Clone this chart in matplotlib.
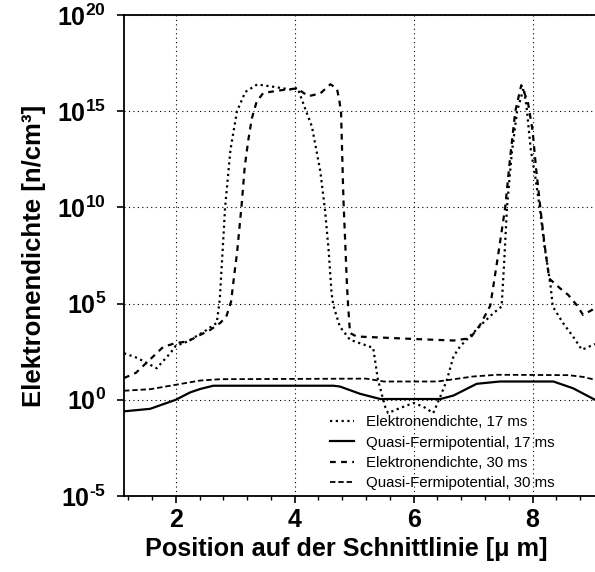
import numpy as np
import matplotlib.pyplot as plt
from matplotlib.ticker import FixedLocator, FuncFormatter, MultipleLocator

plt.rcParams['font.family'] = ['Liberation Sans', 'DejaVu Sans']
plt.rcParams['mathtext.fontset'] = 'custom'
plt.rcParams['mathtext.rm'] = 'Liberation Sans:bold'
plt.rcParams['mathtext.bf'] = 'Liberation Sans:bold'

# Elektronendichte, 17 ms  (position in um, log10 of n/cm^3)
x_n17 = [1.13, 1.35, 1.68, 1.91, 2.0, 2.2, 2.52, 2.69, 2.74, 2.78, 2.83, 2.92,
         3.03, 3.17, 3.37, 3.64, 3.92, 4.05, 4.18, 4.29, 4.43, 4.51, 4.57, 4.62,
         4.65, 4.76, 4.93, 5.32, 5.4, 5.52, 5.57, 5.77, 6.0, 6.16, 6.33, 6.45,
         6.56, 6.67, 6.78, 7.0, 7.17, 7.34, 7.48, 7.52, 7.57, 7.65, 7.74, 7.85,
         7.9, 7.97, 8.05, 8.12, 8.2, 8.3, 8.34, 8.51, 8.68, 8.83, 9.05]
e_n17 = [2.42, 2.18, 1.64, 2.43, 2.8, 3.03, 3.63, 4.0, 5.2, 7.3, 10.0, 13.0,
         15.0, 16.0, 16.39, 16.27, 16.13, 16.2, 15.1, 14.2, 11.9, 9.86, 7.8, 5.55,
         4.9, 3.8, 3.12, 2.7, 1.04, -0.35, -0.69, -0.43, -0.17, -0.35, -0.69, 0.17,
         1.04, 2.25, 2.77, 3.47, 4.0, 4.5, 4.85, 7.0, 10.0, 12.8, 15.0, 16.2,
         15.2, 13.0, 11.5, 10.0, 8.0, 6.0, 4.85, 4.0, 3.29, 2.6, 2.9]

# Quasi-Fermipotential, 17 ms
x_qf17 = [1.13, 1.57, 2.0, 2.24, 2.41, 2.63, 4.65, 4.76, 5.1, 5.44, 6.45, 6.67,
          7.06, 7.45, 8.35, 8.68, 9.05]
e_qf17 = [-0.6, -0.47, 0.0, 0.38, 0.56, 0.73, 0.73, 0.69, 0.31, 0.04, 0.04, 0.22,
          0.83, 0.95, 0.95, 0.6, 0.0]

# Elektronendichte, 30 ms
x_n30 = [1.13, 1.33, 1.62, 1.79, 2.0, 2.2, 2.41, 2.58, 2.75, 2.85, 2.93, 3.0,
         3.03, 3.11, 3.16, 3.22, 3.28, 3.36, 3.47, 3.7, 3.87, 4.04, 4.23, 4.43,
         4.6, 4.71, 4.75, 4.78, 4.82, 4.88, 4.9, 4.93, 5.04, 6.0, 6.67, 6.95,
         7.12, 7.29, 7.42, 7.54, 7.62, 7.71, 7.81, 7.92, 8.0, 8.06, 8.13, 8.2,
         8.28, 8.46, 8.6, 8.74, 8.85, 9.0, 9.05]
e_n30 = [1.13, 1.4, 2.25, 2.75, 2.95, 3.03, 3.37, 3.63, 4.0, 4.32, 5.1, 6.9,
         7.6, 10.2, 12.1, 13.5, 14.63, 15.49, 15.94, 16.06, 16.13, 16.18, 15.78, 15.92,
         16.4, 16.18, 15.58, 14.9, 10.4, 5.9, 4.85, 3.47, 3.29, 3.16, 3.08, 3.2,
         3.9, 4.9, 7.5, 10.0, 12.5, 15.0, 16.35, 15.5, 14.0, 12.0, 10.0, 8.1,
         6.3, 5.8, 5.45, 4.93, 4.41, 4.67, 4.9]

# Quasi-Fermipotential, 30 ms
x_qf30 = [1.13, 1.57, 2.0, 2.41, 2.75, 5.2, 5.5, 6.4, 6.61, 7.0, 7.4, 8.6, 8.85, 9.05]
e_qf30 = [0.47, 0.55, 0.78, 1.0, 1.07, 1.1, 0.95, 0.95, 1.04, 1.21, 1.3, 1.28, 1.19, 1.04]

fig = plt.figure(figsize=(5.95, 5.72), dpi=100)
ax = fig.add_axes([0.2084, 0.1329, 0.7916, 0.8409])

ax.plot(x_n17, 10.0 ** np.array(e_n17), color='black', lw=1.6,
        linestyle=(0, (1, 1.6)), label='Elektronendichte, 17 ms')
ax.plot(x_qf17, 10.0 ** np.array(e_qf17), color='black', lw=1.6,
        label='Quasi-Fermipotential, 17 ms')
ax.plot(x_n30, 10.0 ** np.array(e_n30), color='black', lw=1.6,
        linestyle=(0, (2.6, 2.4)), label='Elektronendichte, 30 ms')
ax.plot(x_qf30, 10.0 ** np.array(e_qf30), color='black', lw=1.3,
        linestyle=(0, (3.0, 1.6)), label='Quasi-Fermipotential, 30 ms')

ax.set_yscale('log')
ax.set_xlim(1.13, 9.05)
ax.set_ylim(1e-5, 1e20)


def decade_label(v, pos):
    k = int(round(np.log10(v)))
    exp = str(k).replace('-', '\u2010')
    return r'$\mathbf{10^{%s}}$' % exp


ax.yaxis.set_major_locator(FixedLocator([1e-5, 1e0, 1e5, 1e10, 1e15, 1e20]))
ax.yaxis.set_minor_locator(FixedLocator([]))
ax.yaxis.set_major_formatter(FuncFormatter(decade_label))
ax.xaxis.set_major_locator(FixedLocator([2, 4, 6, 8]))
ax.xaxis.set_minor_locator(MultipleLocator(0.4))
ax.xaxis.set_major_formatter(FuncFormatter(lambda v, p: '%d' % v))

ax.tick_params(axis='both', which='major', direction='out', length=5, width=1.2,
               labelsize=18, pad=4)
ax.tick_params(axis='y', which='major', pad=8)
ax.tick_params(axis='x', which='minor', direction='out', length=3, width=1)
for lbl in ax.get_xticklabels():
    lbl.set_fontweight('bold')

ax.grid(True, which='major', color='black', linestyle=(0, (1, 3)), lw=0.8)
ax.spines['right'].set_visible(False)
for s in ('left', 'bottom', 'top'):
    ax.spines[s].set_linewidth(1.3)

ax.set_xlabel('Position auf der Schnittlinie [μ m]', fontsize=18.2,
              fontweight='bold')
ax.xaxis.set_label_coords(0.471, -0.085)
ax.set_ylabel('Elektronendichte [n/cm³]', fontsize=18.5, fontweight='bold',
              labelpad=8)

ax.legend(loc='lower left', bbox_to_anchor=(0.415, -0.01), frameon=False,
          fontsize=10.8, handlelength=1.6, handletextpad=0.8, labelspacing=0.42,
          borderpad=0.2)

fig.savefig('out.png', dpi=100)
